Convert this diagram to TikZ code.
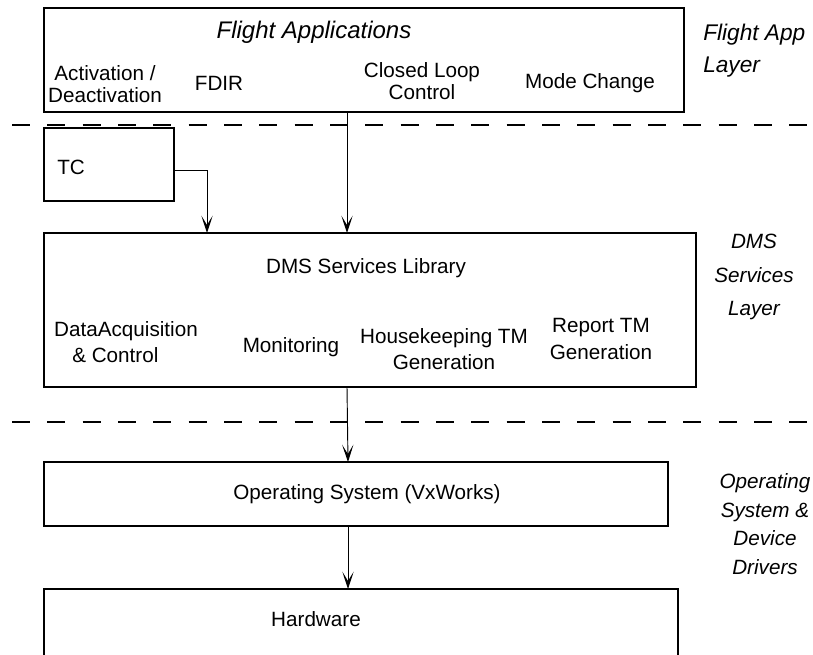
\documentclass[tikz,border=0pt]{standalone}
\usepackage{fontspec}
\setmainfont{Liberation Sans}
\usetikzlibrary{arrows.meta}
\tikzset{
  vtip/.tip={Stealth[length=13pt,width=8.5pt,inset=7pt]},
}
\begin{document}
\begin{tikzpicture}[x=0.75pt,y=-0.75pt,
  box/.style={draw,line width=0.8pt},
  txt/.style={inner sep=0pt,align=center,font=\fontsize{15.5}{17}\selectfont},
  txtb/.style={inner sep=0pt,align=center,font=\fontsize{15.5}{20}\selectfont},
  lay/.style={inner sep=0pt,align=center,font=\fontsize{15.5}{22.5}\selectfont\itshape},
  sep/.style={line width=1.3pt,dash pattern=on 13.5pt off 13pt},
  conn/.style={line width=0.7pt,-vtip}]
\useasboundingbox (0,0) rectangle (813,654);
% boxes
\draw[box] (44,8) rectangle (684,112);
\coordinate (faB) at (347,112);
\draw[box] (44,128) rectangle (174,201);
\coordinate (tcR) at (174,170);
\draw[box] (44,233) rectangle (696,387);
\coordinate (dmsT1) at (207,233);
\coordinate (dmsT2) at (347,233);
\coordinate (dmsB) at (347,387);
\draw[box] (44,462) rectangle (668,526);
\coordinate (osT) at (348,462);
\coordinate (osB) at (348,526);
\draw[box] (44,700) -- (44,589) -- (678,589) -- (678,700);
\coordinate (hwT) at (348,589);
% dashed separators
\coordinate (s1a) at (12,125); \coordinate (s1b) at (813,125);
\coordinate (s2a) at (12,422); \coordinate (s2b) at (813,422);
\draw[sep] (s1a) -- (s1b);
\draw[sep] (s2a) -- (s2b);
% texts in flight applications box
\node[txt,font=\fontsize{18}{20}\selectfont\itshape] (fatitle) at (314,32) {Flight Applications};
\node[txt] (act) at (105,84) {Activation /\\Deactivation};
\node[txt] (fdir) at (219,83) {FDIR};
\node[txt] (clc) at (422,81) {Closed Loop\\Control};
\node[txt] (mode) at (590,83) {Mode Change};
\node[lay,anchor=west,align=left,font=\fontsize{17}{24}\selectfont\itshape] (fal) at (703,51) {Flight App\\Layer};
% TC
\node[txt,anchor=west] (tc) at (57,167) {TC};
% DMS box texts
\node[txt] (dmst) at (366,268) {DMS Services Library};
\node[txtb] (daq) at (126,342) {DataAcquisition\\\hspace*{-16pt}\& Control};
\node[txt] (mon) at (291,347) {Monitoring};
\node[txtb] (hk) at (444,349) {Housekeeping TM\\Generation};
\node[txtb] (rep) at (601,339) {Report TM\\Generation};
\node[lay,font=\fontsize{15.5}{25}\selectfont\itshape] (dmsl) at (754,277) {DMS\\Services\\Layer};
% OS and HW
\node[txt] (os) at (367,494) {Operating System (VxWorks)};
\node[lay,font=\fontsize{15.5}{21.5}\selectfont\itshape] (osl) at (765,524) {Operating\\System \&\\Device\\Drivers};
\node[txt] (hw) at (316,619) {Hardware};
% connectors
\draw[conn] (faB) -- (dmsT2);
\draw[conn] (tcR) -| (dmsT1);
\draw[conn] (dmsB) -- (osT);
\draw[conn] (osB) -- (hwT);
\end{tikzpicture}
\end{document}
